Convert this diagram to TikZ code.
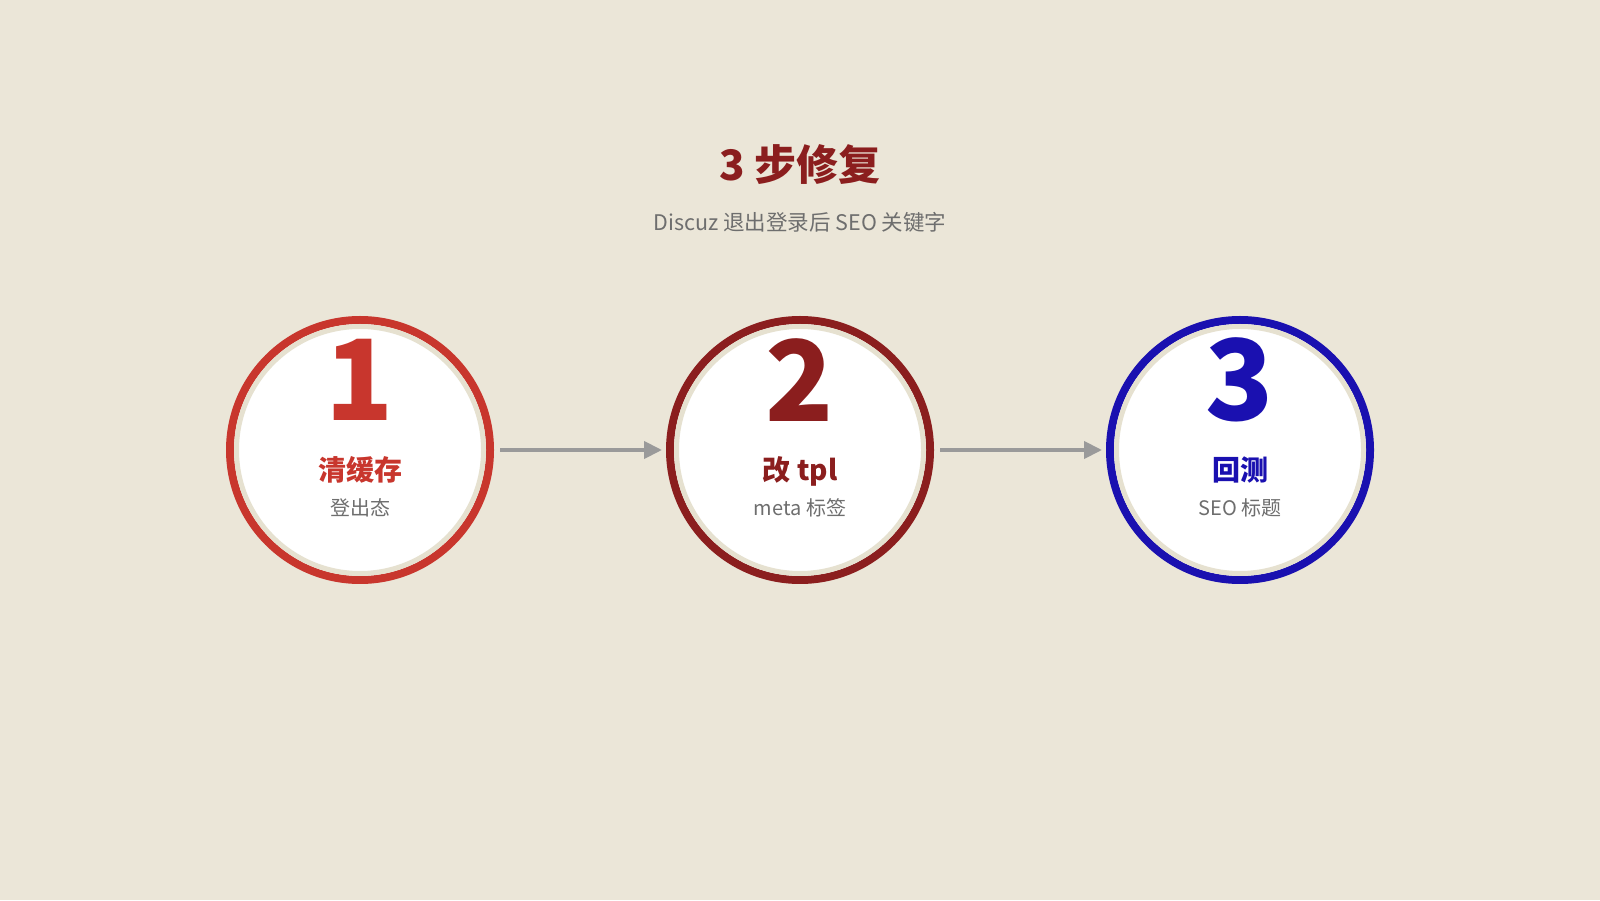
\documentclass[tikz,border=0pt]{standalone}
\usepackage{fontspec}
\setmainfont{Noto Sans CJK SC}
\usepackage{xcolor}
\usetikzlibrary{
    arrows.meta,
    positioning
}
\definecolor{paper}{HTML}{EBE6D8}
\definecolor{stepred}{HTML}{C8362D}
\definecolor{stepdark}{HTML}{8B1E1E}
\definecolor{stepblue}{HTML}{1A10B0}
\definecolor{subgray}{HTML}{6E6E6E}
\definecolor{linkgray}{HTML}{9A9A9A}
\definecolor{rimcream}{HTML}{E6E1D0}
\tikzset{
    stepring/.style={circle, draw=#1, line width=8pt, fill=white, minimum size=260pt, inner sep=0pt},
    rim/.style={draw=rimcream, line width=5pt},
    bignum/.style={font=\fontsize{112}{112}\selectfont\bfseries, text=#1, inner sep=0pt},
    steplabel/.style={font=\fontsize{28}{28}\selectfont\bfseries, text=#1, inner sep=0pt, text height=0.8em, text depth=0.2em},
    stepnote/.style={font=\fontsize{20}{20}\selectfont, text=subgray, inner sep=0pt, text height=0.8em, text depth=0.2em},
    link/.style={draw=linkgray, line width=4pt, -{Triangle[length=18pt,width=17pt]}, shorten <=6pt, shorten >=4pt}
}

\begin{document}
\begin{tikzpicture}[x=1pt, y=1pt]
    \fill[paper] (0, 0) rectangle (1600, 900);
    \useasboundingbox (0, 0) rectangle (1600, 900);

    % heading
    \node[font=\fontsize{42}{42}\selectfont\bfseries, text=stepdark] (title) at (800, 735) {3 步修复};
    \node[font=\fontsize{21.5}{21.5}\selectfont, text=subgray] (subtitle) at (800, 678) {Discuz 退出登录后 SEO 关键字};

    % the three steps
    \node[stepring=stepred] (c1) at (360, 450) {};
    \node[stepring=stepdark] (c2) at (800, 450) {};
    \node[stepring=stepblue] (c3) at (1240, 450) {};
    \draw[rim] (c1.center) circle (123.5);
    \draw[rim] (c2.center) circle (123.5);
    \draw[rim] (c3.center) circle (123.5);

    \node[bignum=stepred] (n1) at (360, 520) {1};
    \node[steplabel=stepred] (l1) at (360, 422) {清缓存};
    \node[stepnote] (s1) at (360, 387) {登出态};

    \node[bignum=stepdark] (n2) at (800, 520) {2};
    \node[steplabel=stepdark] (l2) at (800, 422) {改 tpl};
    \node[stepnote] (s2) at (800, 387) {meta 标签};

    \node[bignum=stepblue] (n3) at (1240, 520) {3};
    \node[steplabel=stepblue] (l3) at (1240, 422) {回测};
    \node[stepnote] (s3) at (1240, 387) {SEO 标题};

    % links
    \draw[link] (c1) -- (c2);
    \draw[link] (c2) -- (c3);
\end{tikzpicture}
\end{document}
